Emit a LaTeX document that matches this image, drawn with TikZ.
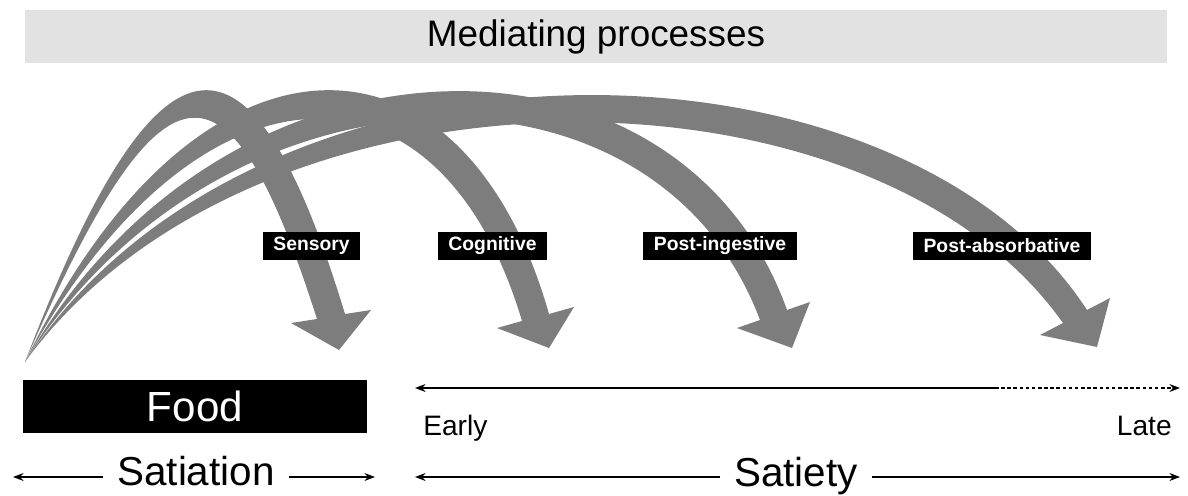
\documentclass[tikz,border=0pt]{standalone}
\usepackage{fontspec}
\setmainfont{Liberation Sans}
\usetikzlibrary{arrows.meta}
\definecolor{bargray}{RGB}{226,226,226}
\definecolor{arrowgray}{RGB}{125,125,125}
\tikzset{
  procarrow/.style={fill=arrowgray},
  stage/.style={fill=black, text=white, font=\fontsize{11}{13}\selectfont\bfseries,
    minimum height=0.56cm, inner xsep=6pt, inner ysep=0pt},
  phase/.style={font=\fontsize{23}{27}\selectfont, inner xsep=8pt},
  timeline/.style={line width=0.8pt, -{Stealth[length=6pt,width=4.5pt]}},
}

\begin{document}
\begin{tikzpicture}[x=0.02cm, y=-0.02cm]
  \useasboundingbox (0,0) rectangle (1188,495);
  % Mediating processes bar
  \node[fill=bargray, minimum width=22.86cm, minimum height=1.06cm,
    font=\fontsize{21}{25}\selectfont] (med) at (596,36.5) {Mediating processes};
  % Draw the process arrows
  \coordinate (src) at (25,362);
  \fill[procarrow] (src) .. controls (160,8) and (252,8) .. (345,314) -- (371,310)
    -- (339,350) -- (291,323) -- (317,319) .. controls (228,40) and (162,48) .. (src) -- cycle;
  \fill[procarrow] (src) .. controls (195,8) and (462,8) .. (549,314) -- (574,307)
    -- (549,348) -- (497,328) -- (522,321) .. controls (438,40) and (196,50) .. (src) -- cycle;
  \fill[procarrow] (src) .. controls (225,10) and (680,10) .. (787,310) -- (810,302)
    -- (792,348) -- (737,328) -- (760,320) .. controls (655,40) and (224,50) .. (src) -- cycle;
  \fill[procarrow] (src) .. controls (257,8) and (900,22) .. (1087,310) -- (1110,298)
    -- (1097,347) -- (1040,335) -- (1063,323) .. controls (870,50) and (254,48) .. (src) -- cycle;
  % Stage labels
  \node[stage] (sensory) at (311.5,246) {Sensory};
  \node[stage] (cognitive) at (492.5,246) {Cognitive};
  \node[stage] (postingestive) at (720,246) {Post-ingestive};
  \node[stage] (postabsorbative) at (1002,246) {Post-absorbative};
  % Food
  \node[fill=black, text=white, minimum width=6.88cm, minimum height=1.06cm,
    font=\fontsize{24}{28}\selectfont] (food) at (195,406.5) {Food};
  % Early to late
  \node[anchor=base west, inner sep=0pt, font=\fontsize{16}{19}\selectfont] (early) at (423,435) {Early};
  \node[anchor=base east, inner sep=0pt, font=\fontsize{16}{19}\selectfont] (late) at (1172,435) {Late};
  \coordinate (tl) at (415,388);
  \coordinate (tm) at (995,388);
  \coordinate (tr) at (1180,388);
  \draw[timeline] (tm) -- (tl);
  \draw[timeline, dash pattern=on 2pt off 1.5pt] (tm) -- (tr);
  % Satiation and satiety
  \node[phase, anchor=base] (satiation) at (196,485) {Satiation};
  \node[phase, anchor=base] (satiety) at (796,486) {Satiety};
  \coordinate (satL) at (13,477);
  \coordinate (satR) at (375,477);
  \coordinate (styL) at (415,477);
  \coordinate (styR) at (1180,477);
  \draw[timeline] (satiation.west |- satL) -- (satL);
  \draw[timeline] (satiation.east |- satR) -- (satR);
  \draw[timeline] (satiety.west |- styL) -- (styL);
  \draw[timeline] (satiety.east |- styR) -- (styR);
\end{tikzpicture}
\end{document}
